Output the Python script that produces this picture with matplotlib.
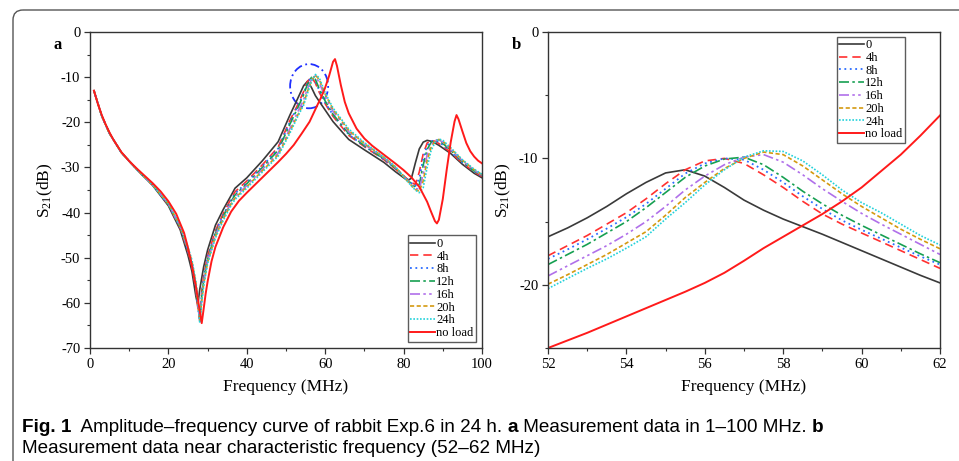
import matplotlib
matplotlib.use("Agg")
import matplotlib.pyplot as plt
from matplotlib.patches import Ellipse, FancyBboxPatch
from matplotlib.ticker import MultipleLocator

plt.rcParams['font.family'] = ['Liberation Serif', 'DejaVu Serif']
plt.rcParams['mathtext.default'] = 'regular'
plt.rcParams['axes.unicode_minus'] = False

# ---- data: panel a (1-100 MHz) ----
freq_a = [1, 3, 5, 8, 12, 16, 20, 23, 25, 26,
          27, 27.5, 28, 28.5, 29, 30, 32, 34, 36, 37,
          40, 44, 48, 51, 53, 54.5, 55.5, 56.5, 57.5, 58.5,
          60, 62, 66, 70, 75, 78, 81, 82, 83, 84,
          85, 86, 87, 88, 89, 90, 92, 95, 98, 100]

h0_a = [-13.0, -18.6, -22.5, -26.7, -30.5, -34.0, -38.5, -43.8, -49.5, -53.0,
        -58.5, -60.5, -57.0, -54.5, -52.0, -48.3, -42.8, -39.3, -36.2, -34.6,
        -32.3, -28.5, -24.3, -18.4, -14.7, -11.9, -10.9, -12.3, -14.1, -15.4,
        -17.3, -19.85, -23.8, -26.1, -28.9, -31.0, -32.9, -32.4, -29.0, -25.9,
        -24.4, -24.0, -24.2, -24.6, -25.1, -25.7, -26.9, -29.3, -31.3, -32.3]

h4_a = [-13.0, -18.6, -22.5, -26.7, -30.5, -33.9, -38.3, -43.4, -48.7, -51.8,
        -57.0, -61.0, -63.5, -57.5, -54.0, -49.6, -44.0, -40.2, -36.9, -35.4,
        -33.0, -29.4, -25.5, -19.6, -16.1, -13.2, -10.9, -10.0, -11.3, -13.4,
        -15.9, -18.7, -22.9, -25.4, -28.3, -30.4, -32.6, -33.3, -33.8, -31.0,
        -27.0, -24.6, -24.0, -24.2, -24.7, -25.3, -26.7, -29.0, -31.0, -32.0]

h8_a = [-13.0, -18.6, -22.5, -26.7, -30.5, -33.9, -38.2, -43.3, -48.5, -51.6,
        -56.6, -60.6, -64.0, -58.0, -54.5, -50.0, -44.3, -40.5, -37.2, -35.8,
        -33.3, -29.7, -25.8, -19.9, -16.4, -13.6, -11.2, -10.0, -10.9, -13.0,
        -15.65, -18.4, -22.7, -25.3, -28.2, -30.3, -32.7, -33.5, -34.1, -32.5,
        -28.0, -25.2, -24.2, -24.0, -24.4, -25.0, -26.5, -28.9, -30.9, -31.9]

h12_a = [-13.0, -18.6, -22.5, -26.7, -30.5, -33.9, -38.2, -43.2, -48.3, -51.3,
         -56.3, -60.3, -63.8, -58.5, -55.0, -50.3, -44.6, -40.8, -37.5, -36.1,
         -33.6, -30.0, -26.2, -20.4, -16.8, -13.9, -11.5, -10.05, -10.5, -12.6,
         -15.3, -18.25, -22.5, -25.2, -28.1, -30.2, -32.8, -33.6, -34.4, -33.8,
         -29.5, -26.0, -24.5, -23.9, -24.1, -24.7, -26.2, -28.7, -30.8, -31.8]

h16_a = [-13.0, -18.6, -22.5, -26.7, -30.5, -33.9, -38.1, -43.1, -48.1, -51.0,
         -56.0, -60.0, -64.2, -59.0, -55.3, -50.7, -45.0, -41.1, -37.8, -36.5,
         -34.0, -30.4, -26.8, -21.4, -17.7, -15.0, -12.5, -10.5, -9.7, -11.3,
         -14.35, -17.6, -22.1, -24.9, -27.9, -30.1, -32.9, -33.8, -34.7, -34.8,
         -31.5, -27.2, -25.0, -24.0, -23.9, -24.4, -26.0, -28.5, -30.6, -31.7]

h20_a = [-13.0, -18.6, -22.5, -26.7, -30.5, -33.9, -38.0, -43.0, -47.9, -50.8,
         -55.6, -59.5, -64.0, -59.5, -55.8, -51.0, -45.3, -41.4, -38.1, -36.8,
         -34.3, -30.7, -27.2, -22.0, -18.4, -15.8, -13.1, -10.8, -9.5, -10.6,
         -13.8, -17.15, -21.8, -24.7, -27.8, -30.0, -33.0, -34.0, -34.9, -35.3,
         -33.0, -28.5, -25.6, -24.2, -23.8, -24.2, -25.8, -28.4, -30.5, -31.6]

h24_a = [-13.0, -18.6, -22.5, -26.7, -30.5, -33.9, -38.0, -42.9, -47.7, -50.5,
         -55.3, -59.0, -64.5, -60.0, -56.2, -51.3, -45.6, -41.7, -38.4, -37.1,
         -34.6, -31.0, -27.5, -22.4, -18.7, -16.2, -13.5, -10.9, -9.4, -10.2,
         -13.5, -16.85, -21.5, -24.5, -27.7, -29.9, -33.1, -34.1, -35.0, -35.6,
         -34.5, -30.0, -26.3, -24.5, -23.7, -24.0, -25.6, -28.3, -30.4, -31.5]

freq_noload_a = [1, 2, 3, 4, 5, 6, 8, 10, 12, 14,
                 16, 18, 20, 22, 24, 25, 26, 27, 28, 28.5,
                 29, 29.5, 30, 31, 32, 34, 36, 38, 40, 42,
                 44, 46, 48, 50, 52, 54, 56, 58, 59, 60,
                 61, 62, 62.5, 63, 64, 65, 66, 68, 70, 72,
                 75, 78, 80, 82, 84, 86, 87, 88, 88.5, 89,
                 90, 91, 92, 93, 93.5, 94, 95, 96, 97, 98,
                 99, 100]
noload_a = [-13.0, -15.9, -18.4, -20.5, -22.3, -23.9, -26.6, -28.6, -30.3, -31.9,
            -33.5, -35.3, -37.5, -40.3, -44.5, -47.8, -51.8, -56.3, -61.8, -64.5,
            -61.3, -58.0, -55.3, -50.8, -47.6, -43.2, -39.8, -37.4, -35.6, -33.9,
            -32.2, -30.5, -28.8, -27.0, -25.0, -22.5, -19.9, -16.2, -14.4, -12.3,
            -9.7, -6.6, -6.0, -7.5, -11.8, -15.5, -18.0, -21.4, -23.6, -25.2,
            -27.2, -29.2, -30.6, -32.2, -34.3, -37.6, -39.8, -41.9, -42.4, -41.6,
            -37.0, -30.5, -24.5, -19.8, -18.4, -19.3, -22.0, -24.6, -26.4, -27.6,
            -28.5, -29.1]

# ---- data: panel b (52-62 MHz) ----
freq_b = [52, 52.5, 53, 53.5, 54, 54.5, 55, 55.5, 56, 56.5, 57,
          57.5, 58, 58.5, 59, 59.5, 60, 60.5, 61, 61.5, 62]

h0_b = [-16.2, -15.5, -14.7, -13.8, -12.8, -11.9, -11.15, -10.9, -11.4, -12.3, -13.3,
        -14.1, -14.8, -15.4, -16.0, -16.65, -17.3, -17.95, -18.6, -19.25, -19.85]
h4_b = [-17.7, -16.9, -16.1, -15.2, -14.3, -13.2, -12.0, -10.9, -10.2, -10.0, -10.4,
        -11.3, -12.3, -13.4, -14.4, -15.2, -15.9, -16.6, -17.3, -18.0, -18.7]
h8_b = [-17.95, -17.2, -16.4, -15.55, -14.65, -13.6, -12.4, -11.2, -10.4, -10.0, -10.1,
        -10.9, -11.9, -13.0, -14.0, -14.9, -15.65, -16.35, -17.05, -17.75, -18.4]
h12_b = [-18.4, -17.6, -16.8, -15.9, -15.0, -13.9, -12.7, -11.5, -10.6, -10.05, -9.9,
         -10.5, -11.5, -12.6, -13.6, -14.5, -15.3, -16.05, -16.8, -17.55, -18.25]
h16_b = [-19.3, -18.5, -17.7, -16.9, -16.0, -15.0, -13.8, -12.5, -11.4, -10.5, -9.9,
         -9.7, -10.3, -11.3, -12.4, -13.4, -14.35, -15.2, -16.0, -16.8, -17.6]
h20_b = [-19.95, -19.2, -18.4, -17.6, -16.7, -15.8, -14.5, -13.1, -11.9, -10.8, -10.0,
         -9.5, -9.7, -10.6, -11.7, -12.8, -13.8, -14.7, -15.6, -16.4, -17.15]
h24_b = [-20.3, -19.5, -18.7, -17.95, -17.1, -16.2, -14.8, -13.5, -12.1, -10.9, -9.9,
         -9.4, -9.45, -10.2, -11.3, -12.5, -13.5, -14.3, -15.2, -16.1, -16.85]
noload_b = [-25.0, -24.4, -23.8, -23.15, -22.5, -21.85, -21.2, -20.55, -19.85, -19.05, -18.1,
            -17.1, -16.2, -15.3, -14.4, -13.4, -12.3, -11.0, -9.7, -8.2, -6.6]

labels = ['0', '4h', '8h', '12h', '16h', '20h', '24h', 'no load']
colors = ['#3a3a3a', '#ff3030', '#2a6cff', '#16a052', '#b070ea', '#d49a10', '#22d2da', '#ff1a1a']
styles = ['-', (0, (5, 3)), (0, (1, 2)), (0, (6, 2, 1.5, 2)),
          (0, (6, 2, 1.5, 2, 1.5, 2)), (0, (2.5, 1.5)), (0, (1, 1)), '-']
widths = [1.2, 1.2, 1.3, 1.2, 1.2, 1.2, 1.2, 1.4]

fig = plt.figure(figsize=(9.59, 4.61), dpi=100)

# frame and caption layer in pixel coords
bg = fig.add_axes([0, 0, 1, 1], zorder=-5)
bg.set_xlim(0, 959)
bg.set_ylim(461, 0)
bg.axis('off')
bg.add_patch(FancyBboxPatch((13, 10), 1000, 520, boxstyle='round,pad=0,rounding_size=10',
                            fc='none', ec='#555555', lw=1.0))

cap_font = ['Liberation Sans']
cap_size = 13.6
line1 = [('Fig. 1', 'bold'), ('  Amplitude\u2013frequency curve of rabbit Exp.6 in 24 h. ', 'normal'),
         ('a', 'bold'), (' Measurement data in 1\u2013100 MHz. ', 'normal'), ('b', 'bold')]
prev = bg.text(22, 432, line1[0][0], fontsize=cap_size, fontweight=line1[0][1],
               family=cap_font, va='baseline', ha='left')
for txt, wt in line1[1:]:
    prev = bg.annotate(txt, xy=(1, 0), xycoords=prev, va='bottom', ha='left',
                       fontsize=cap_size, fontweight=wt, family=cap_font)
bg.text(22, 453, 'Measurement data near characteristic frequency (52\u201362 MHz)',
        fontsize=cap_size, family=cap_font, va='baseline', ha='left')

ax_a = fig.add_axes([90 / 959, 1 - 348 / 461, 392 / 959, 316 / 461])
ax_b = fig.add_axes([548 / 959, 1 - 348 / 461, 392 / 959, 316 / 461])

series_a = [h0_a, h4_a, h8_a, h12_a, h16_a, h20_a, h24_a]
for i, ys in enumerate(series_a):
    ax_a.plot(freq_a, ys, color=colors[i], ls=styles[i], lw=widths[i], label=labels[i])
ax_a.plot(freq_noload_a, noload_a, color=colors[7], ls=styles[7], lw=widths[7], label=labels[7])

series_b = [h0_b, h4_b, h8_b, h12_b, h16_b, h20_b, h24_b, noload_b]
for i, ys in enumerate(series_b):
    ax_b.plot(freq_b, ys, color=colors[i], ls=styles[i], lw=widths[i], label=labels[i])

ax_a.add_patch(Ellipse((55.9, -12.0), 9.7, 9.8, fill=False, ec='#1f2fff', lw=1.3,
                       ls=(0, (5, 2, 1, 2))))

ax_a.set_xlim(0, 100)
ax_a.set_ylim(-70, 0)
ax_a.xaxis.set_major_locator(MultipleLocator(20))
ax_a.xaxis.set_minor_locator(MultipleLocator(10))
ax_a.yaxis.set_major_locator(MultipleLocator(10))
ax_a.yaxis.set_minor_locator(MultipleLocator(5))

ax_b.set_xlim(52, 62)
ax_b.set_ylim(-25, 0)
ax_b.xaxis.set_major_locator(MultipleLocator(2))
ax_b.xaxis.set_minor_locator(MultipleLocator(1))
ax_b.yaxis.set_major_locator(MultipleLocator(10))
ax_b.yaxis.set_minor_locator(MultipleLocator(5))

for ax, letter in ((ax_a, 'a'), (ax_b, 'b')):
    for sp in ax.spines.values():
        sp.set_color('#333333')
        sp.set_linewidth(1.0)
    ax.tick_params(which='major', direction='out', length=4, width=0.9, labelsize=10.5,
                   color='#333333', pad=3)
    ax.tick_params(which='minor', direction='out', length=2.5, width=0.8, color='#333333')
    ax.set_xlabel('Frequency (MHz)', fontsize=12.5, labelpad=6)
    ax.set_ylabel('S$_{21}$(dB)', fontsize=12.5, labelpad=4)
    ax.text(-0.093, 0.96, letter, transform=ax.transAxes, fontsize=12, fontweight='bold',
            ha='left', va='center')

leg_kw = dict(fontsize=9, frameon=True, fancybox=False, handlelength=2.0, handletextpad=0.1,
              borderpad=0.2, labelspacing=0.06, borderaxespad=0)
leg_a = ax_a.legend(loc='lower right', bbox_to_anchor=(0.985, 0.02), **leg_kw)
leg_b = ax_b.legend(loc='upper right', bbox_to_anchor=(0.911, 0.985), **leg_kw)
for leg in (leg_a, leg_b):
    leg.get_frame().set_edgecolor('#333333')
    leg.get_frame().set_linewidth(1.0)

fig.savefig('out.png', dpi=100)
